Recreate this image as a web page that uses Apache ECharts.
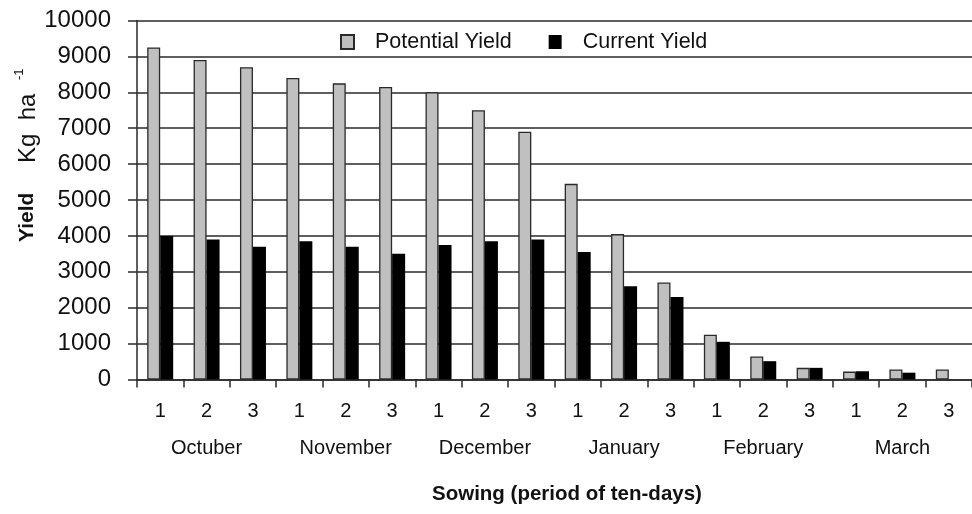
<!DOCTYPE html>
<html>
<head>
<meta charset="utf-8">
<script src="https://cdn.jsdelivr.net/npm/echarts@6/dist/echarts.min.js"></script>
<style>
  html, body { margin: 0; padding: 0; background: #fff; }
  #chart { width: 972px; height: 514px; }
</style>
</head>
<body>
<div id="chart"></div>
<script>
// Ten-day sowing periods (three per month)
const periods = ['1','2','3','1','2','3','1','2','3','1','2','3','1','2','3','1','2','3'];
const months = ['Octuber', 'November', 'December', 'January', 'February', 'March'];

// Yield in kg/ha for each sowing period
const potentialYield = [9250, 8900, 8700, 8400, 8250, 8150, 8000, 7500, 6900, 5450, 4050, 2700, 1250, 640, 325, 220, 280, 280];
const currentYield   = [4000, 3900, 3700, 3850, 3700, 3500, 3750, 3850, 3900, 3550, 2600, 2300, 1050, 510, 325, 230, 190, 0];

const FONT = '"Liberation Sans", Arial, sans-serif';
const dark = '#2a2a2a';

const chart = echarts.init(document.getElementById('chart'), null, { renderer: 'canvas' });

chart.setOption({
  animation: false,
  backgroundColor: '#fff',
  grid: { left: 137, right: 0, top: 20.5, bottom: 134.5, containLabel: false },
  legend: {
    left: 340, top: 31,
    padding: 0,
    itemWidth: 13, itemHeight: 14,
    itemGap: 37,
    icon: 'rect',
    textStyle: { fontFamily: FONT, fontSize: 21.5, color: '#111', padding: [0, 0, 0, 16] },
    data: ['Potential Yield', 'Current Yield']
  },
  xAxis: [
    {
      type: 'category',
      data: periods,
      axisLine: { lineStyle: { color: dark, width: 1.5 } },
      axisTick: { show: true, length: 8, alignWithLabel: false, lineStyle: { color: dark, width: 1.5 } },
      axisLabel: { fontFamily: FONT, fontSize: 20, color: '#111', margin: 22, interval: 0 }
    },
    {
      type: 'category',
      data: months,
      position: 'bottom',
      axisLine: { show: false },
      axisTick: { show: false },
      axisLabel: { fontFamily: FONT, fontSize: 20, color: '#111', margin: 59, interval: 0 }
    }
  ],
  yAxis: {
    type: 'value',
    min: 0, max: 10000, interval: 1000,
    axisLine: { show: true, lineStyle: { color: dark, width: 1.5 } },
    axisTick: { show: true, length: 9, lineStyle: { color: dark, width: 1.5 } },
    axisLabel: {
      fontFamily: FONT, fontSize: 24, color: '#111', margin: 26,
      formatter: function (v) { return String(v); }
    },
    splitLine: { show: true, lineStyle: { color: dark, width: 1.5 } }
  },
  series: [
    {
      name: 'Potential Yield',
      type: 'bar',
      xAxisIndex: 0,
      data: potentialYield,
      barWidth: 13,
      barGap: '0%',
      itemStyle: { color: '#c0c0c0', borderColor: '#2a2a2a', borderWidth: 1.3 }
    },
    {
      name: 'Current Yield',
      type: 'bar',
      xAxisIndex: 0,
      data: currentYield,
      barWidth: 13,
      barGap: '0%',
      itemStyle: { color: '#000', borderColor: '#000', borderWidth: 0 }
    }
  ],
  graphic: [
    {
      type: 'text', x: 17, y: 242, rotation: Math.PI / 2,
      style: { text: 'Yield', font: 'bold 21px ' + FONT, fill: '#111' }
    },
    {
      type: 'text', x: 16, y: 163, rotation: Math.PI / 2,
      style: { text: 'Kg  ha', font: '24px ' + FONT, fill: '#111' }
    },
    {
      type: 'text', x: 13, y: 80, rotation: Math.PI / 2,
      style: { text: '-1', font: '13px ' + FONT, fill: '#111' }
    },
    {
      type: 'text', left: 432, top: 484,
      style: { text: 'Sowing (period of ten-days)', font: 'bold 20.5px ' + FONT, fill: '#111' }
    }
  ]
});
</script>
</body>
</html>
